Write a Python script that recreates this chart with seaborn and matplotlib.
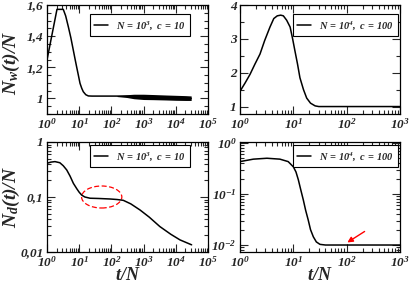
import numpy as np
import seaborn as sns
import matplotlib
matplotlib.use("Agg")
import matplotlib.pyplot as plt
from matplotlib.patches import Ellipse
from matplotlib.ticker import FuncFormatter, LogLocator, AutoMinorLocator, NullFormatter, FixedLocator

# N_w(t)/N, N = 10^3, c = 10
nw_small_t = [1, 1.43, 2.04, 2.5, 3.2, 3.8, 4.6, 5.5, 6.56, 7.4, 8.3, 9.4, 10.6, 12, 13.4, 16, 19.2, 25, 40, 80, 150,
              300, 1000, 3000, 10000, 30000]
nw_small_y = [1.247, 1.41, 1.572, 1.572, 1.572, 1.53, 1.46, 1.39, 1.31, 1.255, 1.204, 1.15, 1.097, 1.065, 1.043, 1.024,
              1.016, 1.015, 1.015, 1.015, 1.015, 1.014, 1.01, 1.008, 1.004, 1.0]
# fluctuating band at late times
band_t = [150, 300, 500, 1000, 2000, 5000, 10000, 20000, 30000]
band_hi = [1.019, 1.024, 1.027, 1.027, 1.025, 1.022, 1.02, 1.018, 1.016]
band_lo = [1.012, 1.006, 0.998, 0.993, 0.992, 0.99, 0.988, 0.987, 0.987]

# N_w(t)/N, N = 10^4, c = 100
nw_big_t = [1, 1.25, 1.54, 1.9, 2.37, 2.9, 3.65, 4.3, 5, 5.8, 6.5, 7.5, 8.7, 9.7, 10.7, 12, 13.3, 15.5, 17.8, 21,
            25.6, 30, 40, 100, 1000]
nw_big_y = [1.45, 1.7, 1.95, 2.25, 2.55, 2.95, 3.35, 3.6, 3.68, 3.7, 3.68, 3.55, 3.35, 3.0, 2.65, 2.25, 1.85, 1.5,
            1.25, 1.1, 1.02, 1.0, 1.0, 1.0, 1.0]

# N_d(t)/N, N = 10^3, c = 10
nd_small_t = [1, 1.3, 1.77, 2.5, 3.2, 4.1, 5.2, 6.6, 8.5, 10, 12, 15, 21.7, 40, 91, 150, 234, 400, 776, 1500, 3200,
              7000, 13500, 31000]
nd_small_y = [0.41, 0.43, 0.44, 0.42, 0.37, 0.31, 0.24, 0.177, 0.14, 0.122, 0.108, 0.1, 0.095, 0.094, 0.092, 0.09,
              0.087, 0.075, 0.058, 0.043, 0.029, 0.021, 0.0166, 0.0135]

# N_d(t)/N, N = 10^4, c = 100
nd_big_t = [1, 1.78, 3.2, 5.6, 8, 10, 11.2, 12.4, 13.8, 15.4, 17, 19, 21, 23.7, 27, 31.6, 40, 100, 1000]
nd_big_y = [0.43, 0.48, 0.5, 0.48, 0.43, 0.34, 0.27, 0.19, 0.12, 0.076, 0.048, 0.031, 0.02, 0.0145, 0.0115, 0.0103,
            0.01, 0.01, 0.01]

label_small = r'$N\,=\,10^3,\ c\,=\,10$'
label_big = r'$N\,=\,10^4,\ c\,=\,100$'

sns.set_style("ticks")
plt.rcParams['font.family'] = ['Liberation Serif', 'DejaVu Serif']
plt.rcParams['font.weight'] = 'bold'
plt.rcParams['font.style'] = 'italic'
plt.rcParams['mathtext.fontset'] = 'custom'
plt.rcParams['mathtext.rm'] = 'Liberation Serif:bold:italic'
plt.rcParams['mathtext.it'] = 'Liberation Serif:bold:italic'
plt.rcParams['mathtext.bf'] = 'Liberation Serif:bold:italic'

W, H = 409, 287
fig = plt.figure(figsize=(W / 100, H / 100), dpi=100)


def px_axes(x0, y0, x1, y1):
    return fig.add_axes([x0 / W, 1 - y1 / H, (x1 - x0) / W, (y1 - y0) / H])


ax_tl = px_axes(47, 5, 208, 114)
ax_tr = px_axes(240, 5, 400, 114)
ax_bl = px_axes(47, 142, 208, 252)
ax_br = px_axes(240, 142, 400, 252)

pow_fmt = FuncFormatter(lambda v, p: r'$10^{%d}$' % round(np.log10(v)))
comma_fmt = FuncFormatter(lambda v, p: ('%g' % v).replace('.', ','))

sns.lineplot(x=nw_small_t, y=nw_small_y, ax=ax_tl, color='black', lw=1.1, label=label_small, sort=False)
ax_tl.fill_between(band_t, band_lo, band_hi, color='black', lw=0)
sns.lineplot(x=nw_big_t, y=nw_big_y, ax=ax_tr, color='black', lw=1.1, label=label_big, sort=False)
sns.lineplot(x=nd_small_t, y=nd_small_y, ax=ax_bl, color='black', lw=1.1, label=label_small, sort=False)
sns.lineplot(x=nd_big_t, y=nd_big_y, ax=ax_br, color='black', lw=1.1, label=label_big, sort=False)

for ax in [ax_tl, ax_tr, ax_bl, ax_br]:
    ax.set_xscale('log')
    ax.xaxis.set_major_locator(LogLocator(base=10, numticks=10))
    ax.xaxis.set_minor_locator(LogLocator(base=10, subs=np.arange(2, 10), numticks=20))
    ax.xaxis.set_major_formatter(pow_fmt)
    ax.xaxis.set_minor_formatter(NullFormatter())
    ax.tick_params(which='both', direction='in', top=True, right=True, labelsize=9.5, pad=2.5, width=0.8)
    ax.tick_params(which='major', length=6)
    ax.tick_params(which='minor', length=3)
    for s in ax.spines.values():
        s.set_linewidth(0.9)
        s.set_color('black')
    ax.set_xlabel('')
    ax.set_ylabel('')

ax_tl.set_xlim(1, 1e5)
ax_tl.set_ylim(0.9, 1.6)
ax_tl.yaxis.set_major_locator(FixedLocator([1, 1.2, 1.4, 1.6]))
ax_tl.yaxis.set_minor_locator(AutoMinorLocator(4))
ax_tl.yaxis.set_major_formatter(comma_fmt)

ax_tr.set_xlim(1, 1e3)
ax_tr.set_ylim(0.78, 4.0)
ax_tr.yaxis.set_major_locator(FixedLocator([1, 2, 3, 4]))
ax_tr.yaxis.set_minor_locator(AutoMinorLocator(2))

ax_bl.set_xlim(1, 1e5)
ax_bl.set_yscale('log')
ax_bl.set_ylim(0.01, 1)
ax_bl.yaxis.set_major_locator(FixedLocator([0.01, 0.1, 1]))
ax_bl.yaxis.set_minor_locator(LogLocator(base=10, subs=np.arange(2, 10), numticks=20))
ax_bl.yaxis.set_major_formatter(comma_fmt)
ax_bl.yaxis.set_minor_formatter(NullFormatter())

ax_br.set_xlim(1, 1e3)
ax_br.set_yscale('log')
ax_br.set_ylim(0.0073, 1.04)
ax_br.yaxis.set_major_locator(FixedLocator([0.01, 0.1, 1]))
ax_br.yaxis.set_minor_locator(LogLocator(base=10, subs=np.arange(2, 10), numticks=20))
ax_br.yaxis.set_major_formatter(pow_fmt)
ax_br.yaxis.set_minor_formatter(NullFormatter())

leg_kw = dict(loc='upper right', fontsize=7.5, frameon=True, fancybox=False, edgecolor='black',
              framealpha=1, handlelength=1.3, handletextpad=0.8, borderpad=0.45, borderaxespad=0)
for ax, anchor in [(ax_tl, (0.89, 0.917)), (ax_tr, (0.99, 0.917)), (ax_bl, (0.89, 0.97)), (ax_br, (0.99, 0.97))]:
    leg = ax.legend(bbox_to_anchor=anchor, **leg_kw)
    leg.get_frame().set_linewidth(0.8)

ax_tl.set_ylabel(r'$N_w(t)/N$', fontsize=14)
ax_bl.set_ylabel(r'$N_d(t)/N$', fontsize=14)
ax_tl.yaxis.set_label_coords(-0.155, 0.47)
ax_bl.yaxis.set_label_coords(-0.155, 0.5)
for ax in [ax_bl, ax_br]:
    ax.set_xlabel(r'$t/N$', fontsize=13)
    ax.xaxis.set_label_coords(0.5, -0.14)

# red dashed ellipse around the plateau
fig.canvas.draw()
cx, cy = ax_bl.transLimits.transform(ax_bl.transScale.transform((50, 0.1)))
ax_bl.add_patch(Ellipse((cx, cy), 0.25, 0.2, transform=ax_bl.transAxes, fill=False,
                        edgecolor='red', ls=(0, (4, 2)), lw=0.9))

# red arrow pointing at the stationary level
ax_br.annotate('', xy=(93, 0.0105), xytext=(240, 0.0197),
               arrowprops=dict(arrowstyle='-|>', color='red', lw=1.0, mutation_scale=8))

fig.savefig('out.png', dpi=100)
